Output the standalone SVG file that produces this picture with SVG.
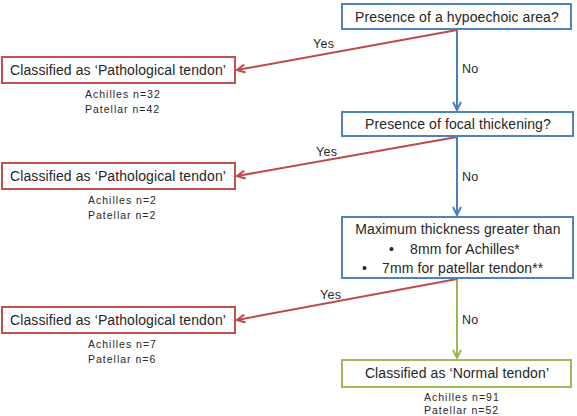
<svg xmlns="http://www.w3.org/2000/svg" width="577" height="416" viewBox="0 0 577 416">
<style>
text{font-family:"Liberation Sans","Noto Sans",sans-serif;fill:#262626}
.t{font-size:14px;letter-spacing:0.1px}
.s{font-size:10.5px;letter-spacing:1px}
.lbl{font-size:12.5px;letter-spacing:0.3px}
.bb{fill:#fff;stroke:#4F81BD;stroke-width:2}
.rb{fill:#fff;stroke:#C0504D;stroke-width:2}
.gb{fill:#fff;stroke:#9BBB59;stroke-width:2}
.bl{stroke:#4A7EBB;stroke-width:2;fill:none}
.rl{stroke:#BE4B48;stroke-width:2;fill:none}
.gl{stroke:#98B954;stroke-width:2;fill:none}
</style>
<defs>
<marker id="ab" viewBox="0 0 10 10" refX="9" refY="5" markerWidth="5" markerHeight="5" orient="auto"><path d="M1,1 L9,5 L1,9" fill="none" stroke="#4A7EBB" stroke-width="2"/></marker>
<marker id="ar" viewBox="0 0 10 10" refX="9" refY="5" markerWidth="5" markerHeight="5" orient="auto"><path d="M1,1 L9,5 L1,9" fill="none" stroke="#BE4B48" stroke-width="2"/></marker>
<marker id="ag" viewBox="0 0 10 10" refX="9" refY="5" markerWidth="5" markerHeight="5" orient="auto"><path d="M1,1 L9,5 L1,9" fill="none" stroke="#98B954" stroke-width="2"/></marker>
</defs>
<rect width="577" height="416" fill="#fff"/>
<g id="connectors">
<line class="bl" x1="457" y1="30" x2="457" y2="110" marker-end="url(#ab)"/>
<line class="bl" x1="457" y1="137" x2="457" y2="215" marker-end="url(#ab)"/>
<line class="gl" x1="457" y1="279" x2="457" y2="358" marker-end="url(#ag)"/>
<line class="rl" x1="457" y1="30" x2="237" y2="70" marker-end="url(#ar)"/>
<line class="rl" x1="457" y1="137" x2="237" y2="176" marker-end="url(#ar)"/>
<line class="rl" x1="457" y1="279" x2="237" y2="320" marker-end="url(#ar)"/>
<text class="lbl" x="313" y="48">Yes</text>
<text class="lbl" x="462" y="73">No</text>
<text class="lbl" x="316" y="156">Yes</text>
<text class="lbl" x="462" y="181">No</text>
<text class="lbl" x="320" y="299">Yes</text>
<text class="lbl" x="462" y="324">No</text>
</g>
<g id="q1">
<rect class="bb" x="342" y="4" width="229" height="25"/>
<text class="t" x="457" y="22" text-anchor="middle">Presence of a hypoechoic area?</text>
</g>
<g id="q2">
<rect class="bb" x="342" y="112" width="231" height="24"/>
<text class="t" x="458" y="129" text-anchor="middle">Presence of focal thickening?</text>
</g>
<g id="q3">
<rect class="bb" x="342" y="217" width="231" height="61"/>
<text class="t" x="458" y="234" text-anchor="middle">Maximum thickness greater than</text>
<text class="t" x="389" y="254">•</text>
<text class="t" x="410" y="254">8mm for Achilles*</text>
<text class="t" x="362" y="273">•</text>
<text class="t" x="382" y="273">7mm for patellar tendon**</text>
</g>
<g id="p1">
<rect class="rb" x="2" y="57" width="233" height="26"/>
<text class="t" x="118" y="75" text-anchor="middle">Classified as ‘Pathological tendon’</text>
<text class="s" x="85" y="98">Achilles n=32</text>
<text class="s" x="85" y="113">Patellar n=42</text>
</g>
<g id="p2">
<rect class="rb" x="2" y="163" width="233" height="26"/>
<text class="t" x="118" y="181" text-anchor="middle">Classified as ‘Pathological tendon’</text>
<text class="s" x="88" y="204">Achilles n=2</text>
<text class="s" x="88" y="219">Patellar n=2</text>
</g>
<g id="p3">
<rect class="rb" x="2" y="307" width="233" height="26"/>
<text class="t" x="118" y="325" text-anchor="middle">Classified as ‘Pathological tendon’</text>
<text class="s" x="88" y="348">Achilles n=7</text>
<text class="s" x="88" y="363">Patellar n=6</text>
</g>
<g id="normal">
<rect class="gb" x="342" y="360" width="229" height="27"/>
<text class="t" x="457" y="378" text-anchor="middle">Classified as ‘Normal tendon’</text>
<text class="s" x="424" y="401">Achilles n=91</text>
<text class="s" x="424" y="414">Patellar n=52</text>
</g>
</svg>
